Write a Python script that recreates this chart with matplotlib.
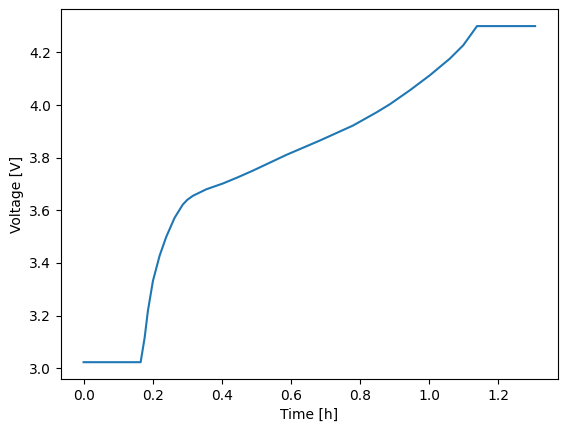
import matplotlib
matplotlib.use("Agg")
import matplotlib.pyplot as plt

# values
time_h = [0.0, 0.165, 0.1766, 0.186, 0.2006, 0.220, 0.239, 0.263, 0.287,
          0.300, 0.316, 0.355, 0.403, 0.447, 0.490, 0.587, 0.683, 0.779,
          0.847, 0.8857, 0.9436, 1.0014, 1.059, 1.098, 1.132, 1.138, 1.306]
voltage = [3.023, 3.023, 3.116, 3.218, 3.332, 3.428, 3.499, 3.571, 3.622,
           3.640, 3.655, 3.680, 3.702, 3.726, 3.751, 3.811, 3.865, 3.922,
           3.972, 4.003, 4.056, 4.113, 4.176, 4.227, 4.289, 4.300, 4.300]

fig = plt.figure(figsize=(5.67, 4.32), dpi=100)
plt.subplots_adjust(left=0.1076, right=0.9836, bottom=0.1227, top=0.9785)
plt.plot(time_h, voltage)
plt.xlabel("Time [h]")
plt.ylabel("Voltage [V]")
plt.savefig("out.png")
